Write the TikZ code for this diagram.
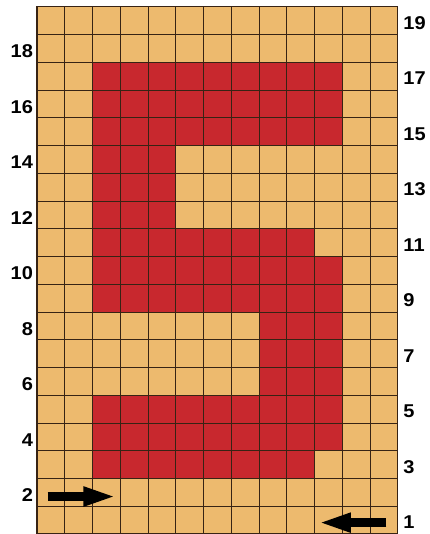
\documentclass[tikz,border=0pt]{standalone}
\usepackage{fontspec}
\newfontfamily\lblfont[FakeStretch=1.08]{Liberation Sans}
\usepackage{xcolor}
\usetikzlibrary{arrows.meta}

\definecolor{sand}{RGB}{237,186,110}
\definecolor{brick}{RGB}{200,40,46}
\definecolor{gridline}{RGB}{55,35,20}

\begin{document}
\begin{tikzpicture}[
        x=1cm, y=1cm,
        cell/.style={fill=brick, draw=none},
        gridlines/.style={draw=gridline, line width=0.6pt},
        frame/.style={draw=gridline, line width=1.4pt},
        rowlbl/.style={
            inner sep=0pt,
            font=\lblfont\bfseries\fontsize{19}{21}\selectfont
        },
        bigarrow/.style={
            line width=9.5pt,
            -{Triangle[length=34pt, width=18pt]}
        },
    ]

    \useasboundingbox (-1.333,0) rectangle (14.162,19.243);

    %============================================================
    % Background board: 13 x 19 cells
    %============================================================
    \def\ncols{13}
    \def\nrows{19}
    \fill[sand] (0,0) rectangle (\ncols,\nrows);

    %============================================================
    % Red cells forming the figure
    %============================================================
    \foreach \xa/\ya/\xb/\yb in {2/14/11/17, 2/11/5/14, 2/10/10/11,
                                 2/8/11/10, 8/5/11/8, 2/3/11/5, 2/2/10/3}{
        \fill[cell] (\xa,\ya) rectangle (\xb,\yb);
    }

    %============================================================
    % Grid
    %============================================================
    \foreach \c in {1,...,12}{
        \draw[gridlines] (\c,0) -- (\c,\nrows);
    }
    \foreach \r in {1,...,18}{
        \draw[gridlines] (0,\r) -- (\ncols,\r);
    }
    \draw[frame] (0,0) rectangle (\ncols,\nrows);

    %============================================================
    % Row numbers: even on the left, odd on the right
    %============================================================
    \foreach \r in {2,4,...,18}{
        \node[rowlbl, anchor=east] (lbl\r) at (-0.14,\r-0.6) {\r};
    }
    \foreach \r in {1,3,...,19}{
        \node[rowlbl, anchor=west] (lbl\r) at (13.2,\r-0.58) {\r};
    }

    %============================================================
    % Entry and exit arrows
    %============================================================
    \coordinate (inS)  at (0.38,1.35);
    \coordinate (inE)  at (2.87,1.35);
    \coordinate (outS) at (12.59,0.41);
    \coordinate (outE) at (10.12,0.41);

    \draw[bigarrow] (inS) -- (inE);
    \draw[bigarrow] (outS) -- (outE);

\end{tikzpicture}
\end{document}
